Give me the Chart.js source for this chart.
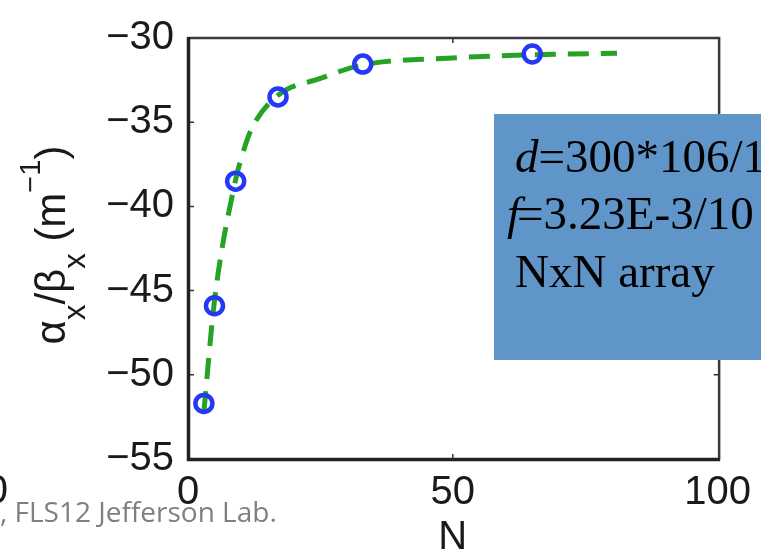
<!DOCTYPE html>
<html>
<head>
<meta charset="utf-8">
<script src="https://cdn.jsdelivr.net/npm/chart.js@4.4.1/dist/chart.umd.min.js"></script>
<style>
  body { margin: 0; background: #fff; }
  canvas { display: block; }
</style>
</head>
<body>
<canvas id="chart-alpha" width="761" height="558"></canvas>
<script>
// NxN array size and computed alpha_x / beta_x (1/m)
const sizeN = [3, 5, 9, 17, 33, 65];
const alphaBeta = [-51.7, -45.9, -38.5, -33.5, -31.55, -30.95];

// dashed fit line, sampled along the curve
const fitN = [3, 5, 9, 10, 12, 17, 25, 33, 49, 65, 81];
const fitVal = [-52.2, -45.6, -38.4, -37.2, -35.4, -33.4, -32.4, -31.6, -31.2, -31.0, -30.9];

const xTicks = [0, 50, 100];
const yTicks = [-55, -50, -45, -40, -35, -30];

const noteLines = [
    ['d', '=300*106/1'],
    ['f', '=3.23E-3/10'],
    ['', 'NxN array']
];
const footer = ', FLS12 Jefferson Lab.';

const SANS = '"Liberation Sans", Arial, Helvetica, sans-serif';
const SERIF = '"Liberation Serif", "Times New Roman", serif';

function minus(v) {
    return String(v).replace('-', '\u2212');
}

// frame, inward ticks, axis label with sub/superscripts, note box
const decorations = {
    id: 'decorations',
    afterDraw(chart) {
        const ctx = chart.ctx;
        const {left, right, top, bottom} = chart.chartArea;
        const xs = chart.scales.x, ys = chart.scales.y;
        ctx.save();

        // box
        ctx.strokeStyle = '#3a3a3a';
        ctx.lineWidth = 2.5;
        ctx.beginPath();
        ctx.moveTo(left, top); ctx.lineTo(right + 1.5, top);
        ctx.lineTo(right + 1.5, bottom);
        ctx.stroke();
        ctx.strokeStyle = '#222';
        ctx.lineWidth = 3.5;
        ctx.beginPath();
        ctx.moveTo(left + 0.5, top - 1); ctx.lineTo(left + 0.5, bottom + 0.5);
        ctx.lineTo(right + 2.5, bottom + 0.5);
        ctx.stroke();

        // inward tick marks
        ctx.lineWidth = 1.5;
        ctx.strokeStyle = '#333';
        ctx.beginPath();
        xTicks.slice(1, -1).forEach(v => {
            const px = xs.getPixelForValue(v);
            ctx.moveTo(px, top); ctx.lineTo(px, top + 5);
            ctx.moveTo(px, bottom); ctx.lineTo(px, bottom - 5);
        });
        yTicks.slice(1, -1).forEach(v => {
            const py = ys.getPixelForValue(v);
            ctx.moveTo(left + 2, py); ctx.lineTo(left + 6, py);
            ctx.moveTo(right + 1, py); ctx.lineTo(right - 4, py);
        });
        ctx.stroke();

        // y axis label: alpha_x / beta_x (m^-1)
        const parts = [
            {t: '\u03b1', size: 42, dy: 0},
            {t: 'x', size: 31, dy: 20},
            {t: '/', size: 42, dy: 0},
            {t: '\u03b2', size: 42, dy: 0},
            {t: 'x', size: 31, dy: 20},
            {t: ' (m', size: 42, dy: 0},
            {t: '\u22121', size: 29, dy: -25},
            {t: ')', size: 42, dy: 0}
        ];
        let total = 0;
        parts.forEach(p => {
            ctx.font = p.size + 'px ' + SANS;
            p.w = ctx.measureText(p.t).width;
            total += p.w;
        });
        ctx.translate(65, 245);
        ctx.rotate(-Math.PI / 2);
        ctx.fillStyle = '#1a1a1a';
        ctx.textBaseline = 'alphabetic';
        let cx = -total / 2;
        parts.forEach(p => {
            ctx.font = p.size + 'px ' + SANS;
            ctx.fillText(p.t, cx, p.dy);
            cx += p.w;
        });
        ctx.setTransform(1, 0, 0, 1, 0, 0);

        // stray tick label of the neighbouring plot
        ctx.font = '40px ' + SANS;
        ctx.textAlign = 'right';
        ctx.fillText('0', 8, 503);
        ctx.textAlign = 'left';

        // footer
        ctx.fillStyle = '#7f7f7f';
        ctx.font = '28px "Open Sans", sans-serif';
        ctx.fillText(footer, 0, 522);

        // note box
        ctx.fillStyle = '#5f95c8';
        ctx.fillRect(494, 114, 300, 246);
        ctx.fillStyle = '#000';
        const base = [172, 229, 287];
        noteLines.forEach((ln, i) => {
            let x = ln[0] === 'f' ? 507 : 515;
            if (ln[0]) {
                ctx.font = 'italic 47px ' + SERIF;
                ctx.fillText(ln[0], x, base[i]);
                x += ctx.measureText(ln[0]).width - (ln[0] === 'f' ? 3 : 0);
            }
            ctx.font = '47px ' + SERIF;
            ctx.fillText(ln[1], x, base[i]);
        });

        ctx.restore();
    }
};

new Chart(document.getElementById('chart-alpha'), {
    type: 'line',
    data: {
        datasets: [{
            label: 'computed',
            data: sizeN.map((n, i) => ({x: n, y: alphaBeta[i]})),
            showLine: false,
            pointStyle: 'circle',
            pointRadius: 8.5,
            pointBorderWidth: 4.5,
            pointBorderColor: '#2438f5',
            pointBackgroundColor: 'rgba(0,0,0,0)',
            order: 0
        }, {
            label: 'fit',
            data: fitN.map((n, i) => ({x: n, y: fitVal[i]})),
            borderColor: '#25a325',
            borderWidth: 5,
            borderDash: [21, 12],
            cubicInterpolationMode: 'monotone',
            pointRadius: 0,
            fill: false,
            order: 1
        }]
    },
    options: {
        responsive: false,
        animation: false,
        layout: { padding: { left: 0, top: 26, right: 42, bottom: 0 } },
        plugins: {
            legend: { display: false },
            tooltip: { enabled: false }
        },
        scales: {
            x: {
                type: 'linear',
                min: 0,
                max: 100,
                afterBuildTicks: s => { s.ticks = xTicks.map(v => ({value: v})); },
                afterFit: s => { s.height = 99; },
                grid: { display: false, drawTicks: false },
                border: { display: false },
                ticks: {
                    padding: 10,
                    color: '#1a1a1a',
                    font: { family: SANS, size: 40 },
                    maxRotation: 0
                },
                title: {
                    display: true,
                    text: 'N',
                    color: '#1a1a1a',
                    font: { family: SANS, size: 40, lineHeight: 1 },
                    padding: { top: 0, bottom: 0 }
                }
            },
            y: {
                type: 'linear',
                min: -55,
                max: -30,
                afterBuildTicks: s => { s.ticks = yTicks.map(v => ({value: v})); },
                afterFit: s => { s.width = 188; },
                grid: { display: false, drawTicks: false },
                border: { display: false },
                ticks: {
                    padding: 14,
                    color: '#1a1a1a',
                    font: { family: SANS, size: 40 },
                    callback: v => minus(v)
                }
            }
        }
    },
    plugins: [decorations]
});
</script>
</body>
</html>
